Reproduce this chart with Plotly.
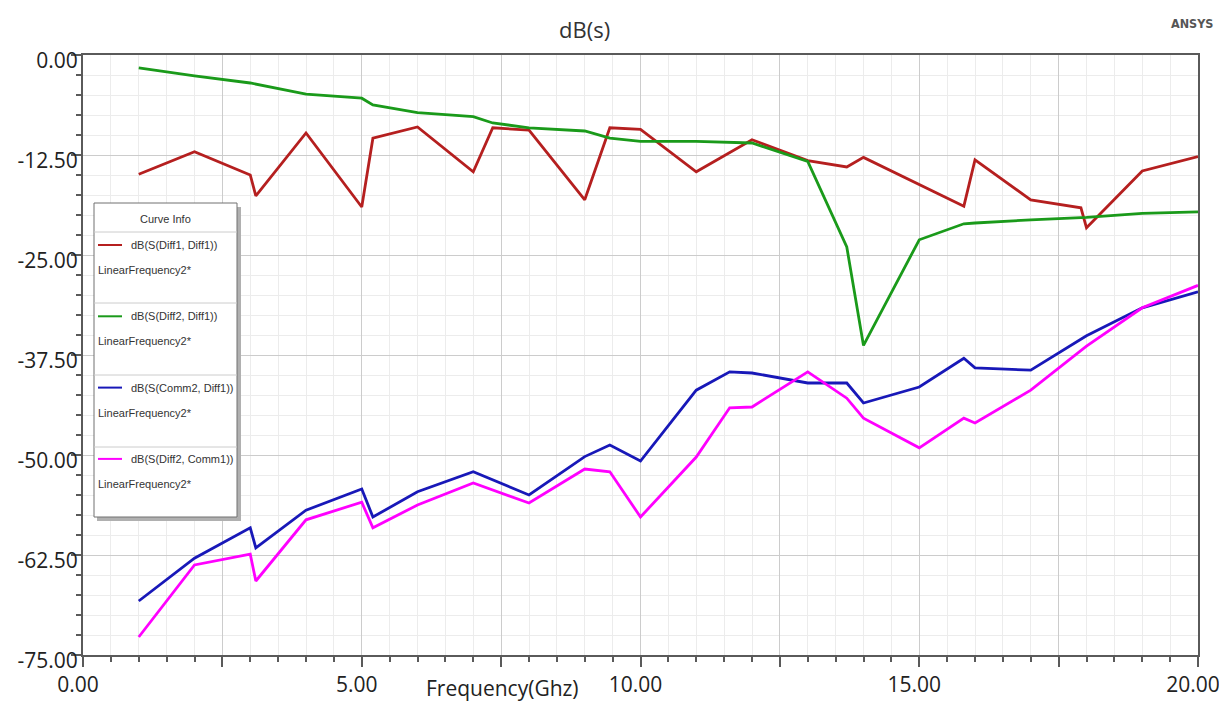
import plotly.graph_objects as go

# ---------------- data ----------------
freq_diff1_diff1 = [1, 2, 3, 3.1, 4, 5, 5.2, 6, 7, 7.35, 8, 9, 9.45, 10, 11, 12, 13, 13.7, 14,
                    15.8, 16, 17, 17.9, 18, 19, 20]
db_diff1_diff1 = [-14.9, -12.1, -15.0, -17.6, -9.75, -19.0, -10.4, -9.0, -14.6, -9.1, -9.4, -18.1,
                  -9.1, -9.3, -14.6, -10.6, -13.2, -14.0, -12.8, -18.9, -13.1, -18.1, -19.1, -21.6,
                  -14.5, -12.7]

freq_diff2_diff1 = [1, 2, 3, 4, 5, 5.2, 6, 7, 7.35, 8, 9, 9.45, 10, 11, 12, 13, 13.7, 14, 15,
                    15.8, 16, 17, 18, 19, 20]
db_diff2_diff1 = [-1.6, -2.6, -3.5, -4.9, -5.4, -6.25, -7.2, -7.7, -8.5, -9.1, -9.5, -10.4, -10.8,
                  -10.8, -11.0, -13.3, -24.0, -36.3, -23.1, -21.1, -21.0, -20.6, -20.3, -19.8, -19.6]

freq_comm2_diff1 = [1, 2, 3, 3.1, 4, 5, 5.2, 6, 7, 8, 9, 9.45, 10, 11, 11.6, 12, 13, 13.7, 14, 15,
                    15.8, 16, 17, 18, 19, 20]
db_comm2_diff1 = [-68.25, -62.9, -59.1, -61.6, -56.9, -54.25, -57.75, -54.6, -52.1, -55.0, -50.2,
                  -48.75, -50.75, -41.9, -39.6, -39.75, -41.0, -41.0, -43.5, -41.5, -37.9, -39.1,
                  -39.4, -35.1, -31.6, -29.6]

freq_diff2_comm1 = [1, 2, 3, 3.1, 4, 5, 5.2, 6, 7, 8, 9, 9.45, 10, 11, 11.6, 12, 13, 13.7, 14, 15,
                    15.8, 16, 17, 18, 19, 20]
db_diff2_comm1 = [-72.75, -63.75, -62.4, -65.75, -58.1, -55.9, -59.1, -56.25, -53.5, -56.0, -51.75,
                  -52.1, -57.75, -50.25, -44.1, -44.0, -39.6, -42.9, -45.4, -49.1, -45.4, -46.0,
                  -41.9, -36.4, -31.6, -28.8]

series_names = ["dB(S(Diff1, Diff1))", "dB(S(Diff2, Diff1))",
                "dB(S(Comm2, Diff1))", "dB(S(Diff2, Comm1))"]
sweep_label = "LinearFrequency2*"

x_tick_vals = [0, 2.5, 5, 7.5, 10, 12.5, 15, 17.5, 20]
x_tick_text = ["0.00", "", "5.00", "", "10.00", "", "15.00", "", "20.00"]
y_tick_vals = [0, -12.5, -25, -37.5, -50, -62.5, -75]
y_tick_text = ["0.00", "-12.50", "-25.00", "-37.50", "-50.00", "-62.50", "-75.00"]

chart_title = "dB(s)"
x_title = "Frequency(Ghz)"
brand = "ANSYS"

# ---------------- styling / layout ----------------
colors = ["#b51f1f", "#1a9a1a", "#1818b8", "#ff00ff"]
PAGE_OFF = 8                      # browser body margin
W, H = 1227 - PAGE_OFF, 702 - PAGE_OFF
# plot area in screen pixels
L, R, T, B = 83, 1198, 55, 655


def px(x):
    return (x - L) / (R - L)


def py(y):
    return (B - y) / (B - T)


fig = go.Figure()
series = [(freq_diff1_diff1, db_diff1_diff1), (freq_diff2_diff1, db_diff2_diff1),
          (freq_comm2_diff1, db_comm2_diff1), (freq_diff2_comm1, db_diff2_comm1)]
for (fx, fy), name, c in zip(series, series_names, colors):
    fig.add_trace(go.Scatter(x=fx, y=fy, mode="lines", name=name,
                             line=dict(color=c, width=2.8), showlegend=False))

font_main = "Open Sans, Noto Sans, DejaVu Sans, sans-serif"
axis_common = dict(showline=True, linecolor="#5a5a5a", linewidth=2, mirror=True,
                   ticks="outside", tickcolor="#5a5a5a", tickwidth=1.5, ticklen=10,
                   showgrid=True, gridcolor="#cccccc", gridwidth=1, zeroline=False,
                   automargin=False,
                   tickfont=dict(family=font_main, size=21, color="#222222"))

fig.update_xaxes(range=[0, 20], tickmode="array", tickvals=x_tick_vals, ticktext=x_tick_text,
                 minor=dict(dtick=0.5, ticks="outside", ticklen=5, tickcolor="#5a5a5a",
                            showgrid=True, gridcolor="#ececec", gridwidth=1),
                 ticklabelshift=-5, ticklabelstandoff=0, **axis_common)
fig.update_yaxes(range=[-75, 0], tickmode="array", tickvals=y_tick_vals, ticktext=y_tick_text,
                 minor=dict(dtick=2.5, ticks="outside", ticklen=5, tickcolor="#5a5a5a",
                            showgrid=True, gridcolor="#ececec", gridwidth=1),
                 ticklabelshift=6, ticklabelstandoff=-11, **axis_common)

shapes = []
annotations = []


def note(text, x, y, font, xanchor="center"):
    annotations.append(dict(text=text, xref="paper", yref="paper", x=px(x), y=py(y),
                            xanchor=xanchor, yanchor="middle", showarrow=False, font=font))


# top frame line
shapes.append(dict(type="line", xref="paper", yref="paper", x0=px(8), x1=px(1222),
                   y0=py(5), y1=py(5), line=dict(color="#8a8a8a", width=2)))

note(chart_title, 584, 29, dict(family=font_main, size=22, color="#333333"))
note("<b>" + brand + "</b>", 1192, 24,
     dict(family="DejaVu Sans Condensed, Liberation Sans Narrow, sans-serif", size=12.5,
          color="#555555"))
note(x_title, 502, 688, dict(family=font_main, size=21, color="#222222"))

# Curve Info box
bx0, bx1, by0, by1 = 94, 237, 203, 517
shapes.append(dict(type="rect", xref="paper", yref="paper", x0=px(bx0 + 3), x1=px(bx1 + 4),
                   y0=py(by0 + 4), y1=py(by1 + 4), fillcolor="#b0b0b0", line=dict(width=0),
                   layer="above"))
shapes.append(dict(type="rect", xref="paper", yref="paper", x0=px(bx0), x1=px(bx1),
                   y0=py(by0), y1=py(by1), fillcolor="white",
                   line=dict(color="#707070", width=1), layer="above"))
legend_font = dict(family="Liberation Sans, Arial, sans-serif", size=11, color="#333333")
note("Curve Info", 165, 219, legend_font)
dividers = [232, 303, 375, 447]
for dy in dividers:
    shapes.append(dict(type="line", xref="paper", yref="paper", x0=px(bx0), x1=px(bx1),
                       y0=py(dy), y1=py(dy), line=dict(color="#cccccc", width=1),
                       layer="above"))
for i, (name, c) in enumerate(zip(series_names, colors)):
    ly = 245 + i * 71.3
    shapes.append(dict(type="line", xref="paper", yref="paper", x0=px(98), x1=px(122),
                       y0=py(ly), y1=py(ly), line=dict(color=c, width=2), layer="above"))
    note(name, 129, ly, legend_font, xanchor="left")
    note(sweep_label, 96, ly + 25, legend_font, xanchor="left")

fig.update_layout(width=W, height=H,
                  margin=dict(l=L - PAGE_OFF, r=W - (R - PAGE_OFF), t=T - PAGE_OFF,
                              b=H - (B - PAGE_OFF), pad=0, autoexpand=False),
                  paper_bgcolor="white", plot_bgcolor="white",
                  shapes=shapes, annotations=annotations, showlegend=False)

fig.write_html("out.html")
